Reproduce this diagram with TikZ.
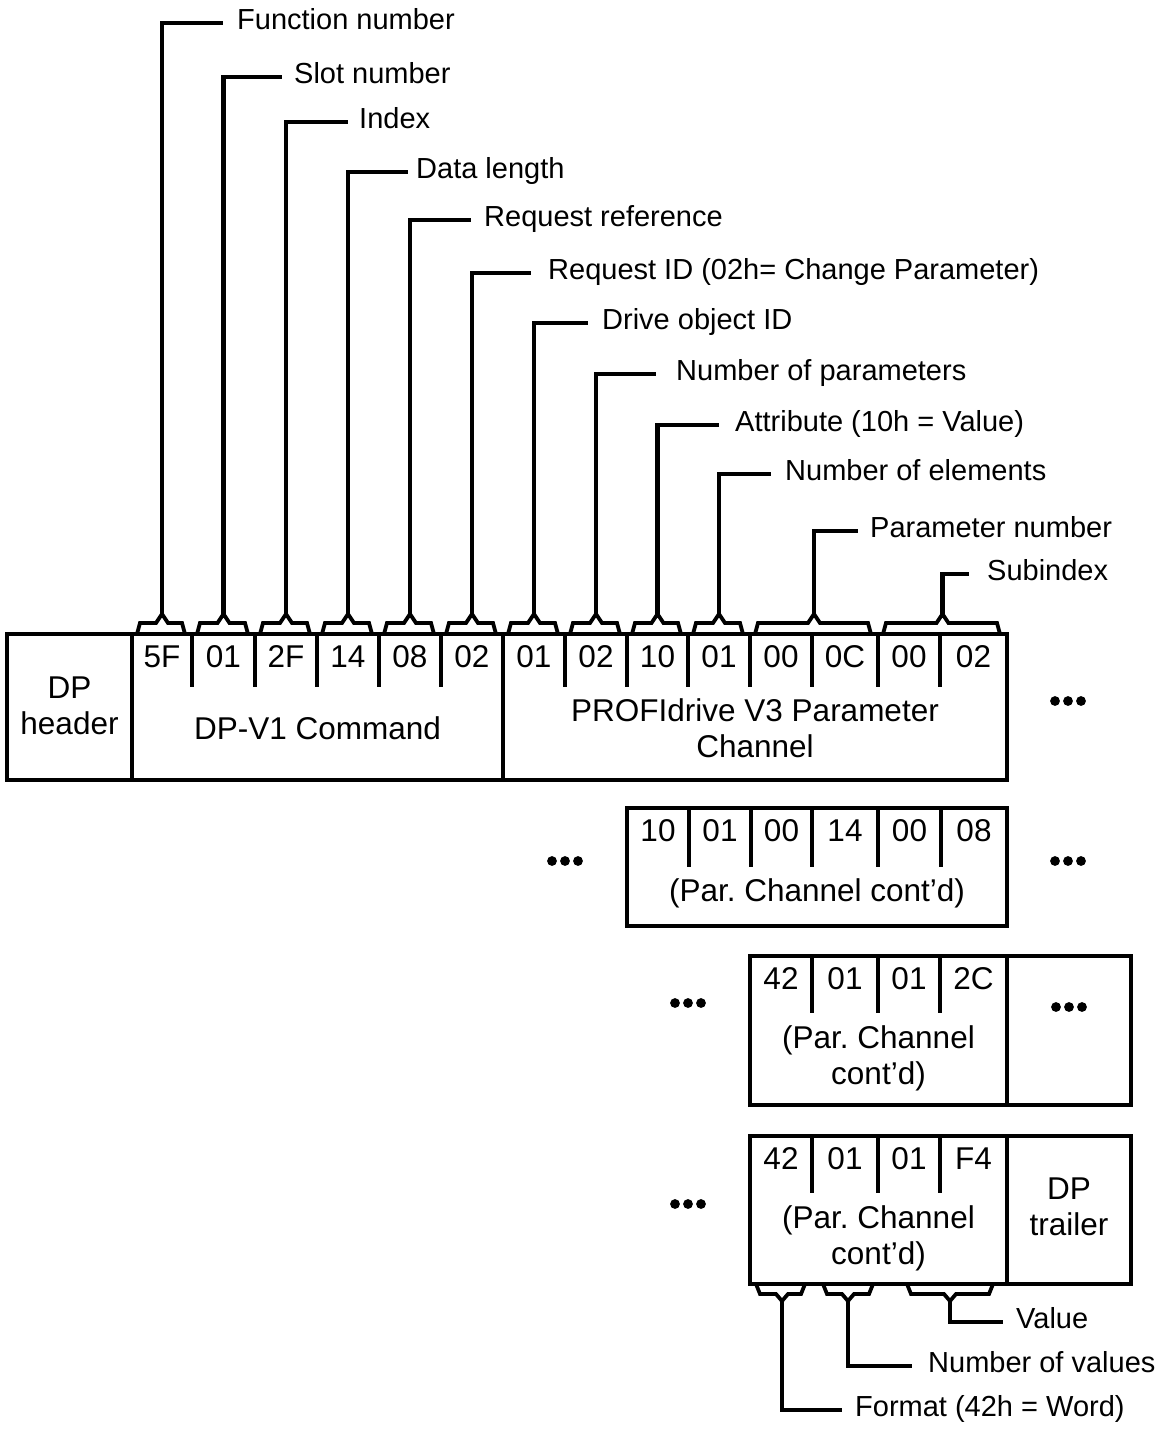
\documentclass[tikz,border=0pt]{standalone}
\usepackage{fontspec}
\setmainfont{Liberation Sans}
\frenchspacing
\begin{document}
\begin{tikzpicture}[x=1pt,y=-1pt,
  lbl/.style={font=\fontsize{29}{34}\selectfont, inner sep=0pt, anchor=base west},
  bt/.style={font=\fontsize{31.5}{36}\selectfont, inner sep=0pt, anchor=base},
  frame/.style={line width=4.4pt},
  divider/.style={line width=3.4pt},
  brk/.style={line width=3.8pt, line join=miter},
  lead/.style={line width=4.8pt, line join=miter}]
\useasboundingbox (0,0) rectangle (1162,1436);

% ---------- main box ----------
\draw[frame] (7,634) rectangle (1007,780);
\draw[frame] (132,634) -- (132,780);
\draw[frame] (503,634) -- (503,780);
\foreach \x in {192,255,317,379,441,565,627,688,750,812,878,940}
  \draw[divider] (\x,634) -- (\x,687);

\foreach \t/\x [count=\i] in {5F/162,01/223.5,2F/286,14/348,08/410,02/472,01/534,02/596,10/657.5,01/719,00/781,0C/845,00/909,02/973.5}
  \node[bt] (m\i) at (\x,667) {\t};
\node[bt] (dph1) at (69.5,698) {DP};
\node[bt] (dph2) at (69.5,734) {header};
\node[bt] (dpv1) at (317.5,739) {DP-V1 Command};
\node[bt] (pd1) at (755,721) {PROFIdrive V3 Parameter};
\node[bt] (pd2) at (755,757) {Channel};

% ---------- top brackets ----------
\foreach \a/\b/\n in {132/192/p1,192/255/p2,255/317/p3,317/379/p4,379/441/p5,441/503/p6,503/565/p7,565/627/p8,627/688/p9,688/750/p10,750/878/p11,878/1007/p12}{
  \pgfmathsetmacro\c{(\a+\b)/2}
  \draw[brk] (\a+5,634) -- (\a+8,623) -- (\c-6,623) -- (\c,614) -- (\c+6,623) -- (\b-10,623) -- (\b-7,634);
  \coordinate (\n) at (\c,614);
}

% ---------- top labels ----------
\foreach \n/\y/\ex/\tx/\txt in {
  1/23/223/237/Function number,
  2/77/282/294/Slot number,
  3/122/348/359/Index,
  4/172/408/416/Data length,
  5/220/471/484/Request reference,
  6/273/531/548/Request ID (02h= Change Parameter),
  7/323/588/602/Drive object ID,
  8/374/656/676/Number of parameters,
  9/425/719/735/Attribute (10h = Value),
  10/474/771/785/Number of elements,
  11/531/858/870/Parameter number,
  12/574/969/987/Subindex}{
  \coordinate (e\n) at (\ex,\y);
  \node[lbl] (l\n) at (\tx,\y+6) {\txt};
  \draw[lead] (p\n) |- (e\n);
}

% ---------- dots ----------
\foreach \x/\y/\n in {1068/701/d1,565/861/d2,1068/861/d3,688/1003/d4,1069/1007/d5,688/1204/d6}{
  \coordinate (\n) at (\x,\y);
  \fill (\x-13,\y) circle[radius=4.9pt] (\x,\y) circle[radius=4.9pt] (\x+13,\y) circle[radius=4.9pt];
}

% ---------- box 2 ----------
\draw[frame] (627,808) rectangle (1007,926);
\foreach \x in {689,751,812,878,941}
  \draw[divider] (\x,808) -- (\x,867);
\foreach \t/\x [count=\i] in {10/658,01/720,00/781.5,14/845,00/909.5,08/974}
  \node[bt] (s\i) at (\x,841) {\t};
\node[bt] (pc2) at (817,901) {(Par. Channel cont’d)};

% ---------- box 3 ----------
\draw[frame] (750,956) rectangle (1131,1105);
\draw[frame] (1007,956) -- (1007,1105);
\foreach \x in {812,878,940}
  \draw[divider] (\x,956) -- (\x,1013);
\foreach \t/\x [count=\i] in {42/781,01/845,01/909,2C/973.5}
  \node[bt] (t\i) at (\x,989) {\t};
\node[bt] (pc3a) at (878.5,1048) {(Par. Channel};
\node[bt] (pc3b) at (878.5,1084) {cont’d)};

% ---------- box 4 ----------
\draw[frame] (750,1136) rectangle (1131,1284);
\draw[frame] (1007,1136) -- (1007,1284);
\foreach \x in {812,878,940}
  \draw[divider] (\x,1136) -- (\x,1193);
\foreach \t/\x [count=\i] in {42/781,01/845,01/909,F4/973.5}
  \node[bt] (f\i) at (\x,1169) {\t};
\node[bt] (pc4a) at (878.5,1228) {(Par. Channel};
\node[bt] (pc4b) at (878.5,1264) {cont’d)};
\node[bt] (dpt1) at (1069,1199) {DP};
\node[bt] (dpt2) at (1069,1235) {trailer};

% ---------- bottom brackets ----------
\foreach \a/\b/\c/\n in {756/805/782/q1,823/873/848/q2,907/993/950/q3}{
  \draw[brk] (\a,1284) -- (\a+4,1294) -- (\c-6,1294) -- (\c,1301) -- (\c+6,1294) -- (\b-4,1294) -- (\b,1284);
  \coordinate (\n) at (\c,1301);
}
\foreach \n/\y/\ex/\tx/\txt in {
  1/1410/842/855/Format (42h = Word),
  2/1366/912/928/Number of values,
  3/1322/1003/1016/Value}{
  \coordinate (g\n) at (\ex,\y);
  \node[lbl] (b\n) at (\tx,\y+6) {\txt};
  \draw[lead] (q\n) |- (g\n);
}
\end{tikzpicture}
\end{document}
